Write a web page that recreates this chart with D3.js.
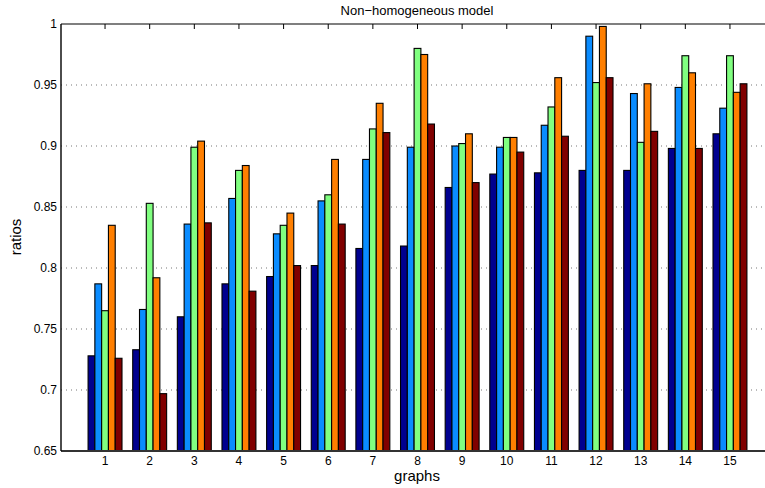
<!DOCTYPE html>
<html>
<head>
<meta charset="utf-8">
<script src="https://cdn.jsdelivr.net/npm/d3@7"></script>
<style>
  body { margin: 0; background: #fff; }
  svg { display: block; font-family: "Liberation Sans", Arial, sans-serif; }
</style>
</head>
<body>
<svg id="chart" width="765" height="488"></svg>
<script>
'use strict';

// data
const graphs = [1, 2, 3, 4, 5, 6, 7, 8, 9, 10, 11, 12, 13, 14, 15];
const seriesNames = ["s1", "s2", "s3", "s4", "s5"];
const seriesColors = ["#00008f", "#0a8cff", "#80ff80", "#ff7f00", "#800000"];
const s1 = [0.728, 0.733, 0.760, 0.787, 0.793, 0.802, 0.816, 0.818, 0.866, 0.877, 0.878, 0.880, 0.880, 0.898, 0.910];
const s2 = [0.787, 0.766, 0.836, 0.857, 0.828, 0.855, 0.889, 0.899, 0.900, 0.899, 0.917, 0.990, 0.943, 0.948, 0.931];
const s3 = [0.765, 0.853, 0.899, 0.880, 0.835, 0.860, 0.914, 0.980, 0.902, 0.907, 0.932, 0.952, 0.903, 0.974, 0.974];
const s4 = [0.835, 0.792, 0.904, 0.884, 0.845, 0.889, 0.935, 0.975, 0.910, 0.907, 0.956, 0.998, 0.951, 0.960, 0.944];
const s5 = [0.726, 0.697, 0.837, 0.781, 0.802, 0.836, 0.911, 0.918, 0.870, 0.895, 0.908, 0.956, 0.912, 0.898, 0.951];
const yTicks = [0.65, 0.7, 0.75, 0.8, 0.85, 0.9, 0.95, 1];

const allSeries = [s1, s2, s3, s4, s5];

const margin = {left: 61, top: 24, bottom: 451};
const svg = d3.select("#chart");

// x runs 0..16 like the matlab bar axis; right end falls past the window
const x = d3.scaleLinear().domain([0, 16]).range([60.4, 774.6]);
const y = d3.scaleLinear().domain([0.65, 1]).range([margin.bottom, margin.top]);

const unit = x(1) - x(0);
const groupWidth = unit * 0.76;
const inner = d3.scaleBand().domain(seriesNames).range([-groupWidth / 2, groupWidth / 2]).padding(0);

// grid lines
svg.append("g")
    .selectAll("line")
    .data(yTicks.filter(d => d > 0.65 && d < 1))
    .enter()
    .append("line")
    .attr("x1", margin.left)
    .attr("x2", 765)
    .attr("y1", d => y(d))
    .attr("y2", d => y(d))
    .style("stroke", "#777")
    .style("stroke-width", 1)
    .style("stroke-dasharray", "1,4");

// bars
const barRows = [];
graphs.forEach((g, i) => {
    allSeries.forEach((s, k) => {
        barRows.push({g: g, k: k, v: s[i]});
    });
});

svg.append("g")
    .selectAll("rect")
    .data(barRows)
    .enter()
    .append("rect")
    .attr("x", d => x(d.g) + inner(seriesNames[d.k]))
    .attr("y", d => y(d.v))
    .attr("width", inner.bandwidth())
    .attr("height", d => y(0.65) - y(d.v))
    .style("fill", d => seriesColors[d.k])
    .style("stroke", "#000")
    .style("stroke-width", 1.1);

// baseline
svg.append("line")
    .attr("x1", margin.left)
    .attr("x2", 765)
    .attr("y1", y(0.65))
    .attr("y2", y(0.65))
    .style("stroke", "#333")
    .style("stroke-width", 2);

// top box line with ticks
svg.append("line")
    .attr("x1", margin.left)
    .attr("x2", 765)
    .attr("y1", y(1))
    .attr("y2", y(1))
    .style("stroke", "#000")
    .style("stroke-width", 1.2);

svg.append("g")
    .selectAll("line")
    .data(graphs)
    .enter()
    .append("line")
    .attr("x1", d => x(d))
    .attr("x2", d => x(d))
    .attr("y1", y(1))
    .attr("y2", y(1) + 5)
    .style("stroke", "#000");

// left axis
svg.append("line")
    .attr("x1", margin.left)
    .attr("x2", margin.left)
    .attr("y1", y(1))
    .attr("y2", y(0.65))
    .style("stroke", "#000")
    .style("stroke-width", 1.4);

svg.append("g")
    .selectAll("text")
    .data(yTicks)
    .enter()
    .append("text")
    .attr("x", margin.left - 4)
    .attr("y", d => y(d) + 4)
    .attr("text-anchor", "end")
    .attr("font-size", 12)
    .text(d => d3.format("")(d));

// x tick labels
svg.append("g")
    .selectAll("text")
    .data(graphs)
    .enter()
    .append("text")
    .attr("x", d => x(d))
    .attr("y", 465)
    .attr("text-anchor", "middle")
    .attr("font-size", 12)
    .text(d => d);

// titles
svg.append("text")
    .attr("x", 417)
    .attr("y", 15)
    .attr("text-anchor", "middle")
    .attr("font-size", 13)
    .text("Non\u2212homogeneous model");

svg.append("text")
    .attr("x", 417)
    .attr("y", 481)
    .attr("text-anchor", "middle")
    .attr("font-size", 15)
    .text("graphs");

svg.append("text")
    .attr("transform", "translate(21,237) rotate(-90)")
    .attr("text-anchor", "middle")
    .attr("font-size", 15)
    .text("ratios");
</script>
</body>
</html>
